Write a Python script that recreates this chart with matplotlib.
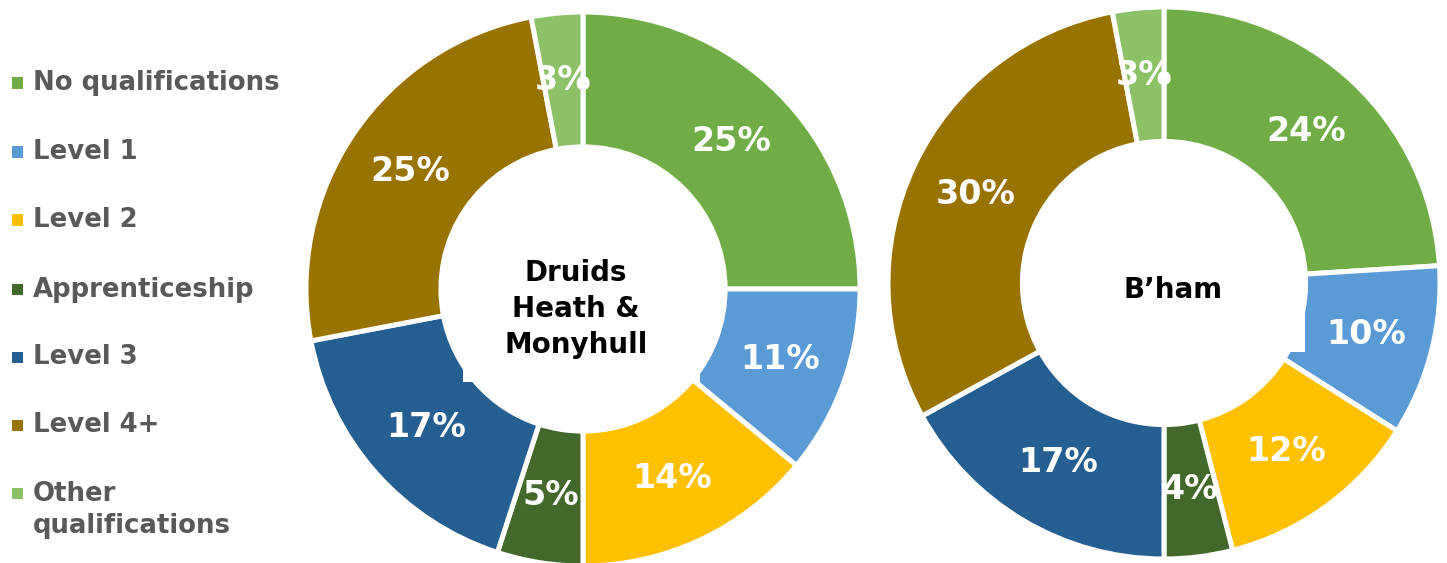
import matplotlib
matplotlib.use("Agg")
import matplotlib.pyplot as plt
from matplotlib.patches import Rectangle

categories = ["No qualifications", "Level 1", "Level 2", "Apprenticeship",
              "Level 3", "Level 4+", "Other\nqualifications"]
druids_values = [25, 11, 14, 5, 17, 25, 3]
bham_values = [24, 10, 12, 4, 17, 30, 3]
colors = ["#70AD47", "#5B9BD5", "#FFC000", "#43682B", "#255E91", "#997300", "#8CC168"]

W, H = 1447, 563
fig = plt.figure(figsize=(W / 100, H / 100), dpi=100)
fig.patch.set_facecolor("white")


def donut(values, cx, cy, r, title, tx, ty, box):
    ax = fig.add_axes([(cx - r) / W, (H - cy - r) / H, 2 * r / W, 2 * r / H])
    wedges, texts, autotexts = ax.pie(
        values, colors=colors, startangle=90, counterclock=False, radius=1,
        autopct=lambda p: f"{p:.0f}%", pctdistance=0.755,
        wedgeprops=dict(width=0.487, edgecolor="white", linewidth=3.6),
        textprops=dict(color="white", fontsize=24, fontweight="bold"))
    ax.set_xlim(-1, 1)
    ax.set_ylim(-1, 1)
    ax.set_aspect("equal")
    ax.axis("off")
    for w in wedges:
        w.set_clip_on(False)
    # white title box (covers hole, as in the reference)
    bx0, by0, bx1, by1 = box
    fig.patches.append(Rectangle((bx0 / W, 1 - by1 / H), (bx1 - bx0) / W, (by1 - by0) / H,
                                 transform=fig.transFigure, facecolor="white",
                                 edgecolor="none", zorder=5))
    fig.text(tx / W, 1 - ty / H, title, ha="center", va="center", fontsize=20,
             fontweight="bold", color="black", linespacing=1.38, zorder=6)


donut(druids_values, 583, 289, 277, "Druids\nHeath &\nMonyhull", 576, 309,
      (463, 225, 700, 382))
donut(bham_values, 1164, 283, 276, "B\u2019ham", 1173, 290,
      (1045, 260, 1305, 352))

# legend
ys = [83, 152, 220, 290, 357, 425, 493]
for i, (lab, col) in enumerate(zip(categories, colors)):
    y = ys[i]
    fig.patches.append(Rectangle((12 / W, 1 - (y + 5.5) / H), 11 / W, 11 / H,
                                 transform=fig.transFigure, facecolor=col,
                                 edgecolor="none"))
    t = fig.text(33 / W, 1 - y / H, lab, ha="left", va="center",
                 fontsize=18.7, fontweight="bold", color="#595959", linespacing=1.3)
    if "\n" in lab:
        t.set_position((33 / W, 1 - (y + 17) / H))

fig.savefig("out.png", dpi=100, facecolor="white")
